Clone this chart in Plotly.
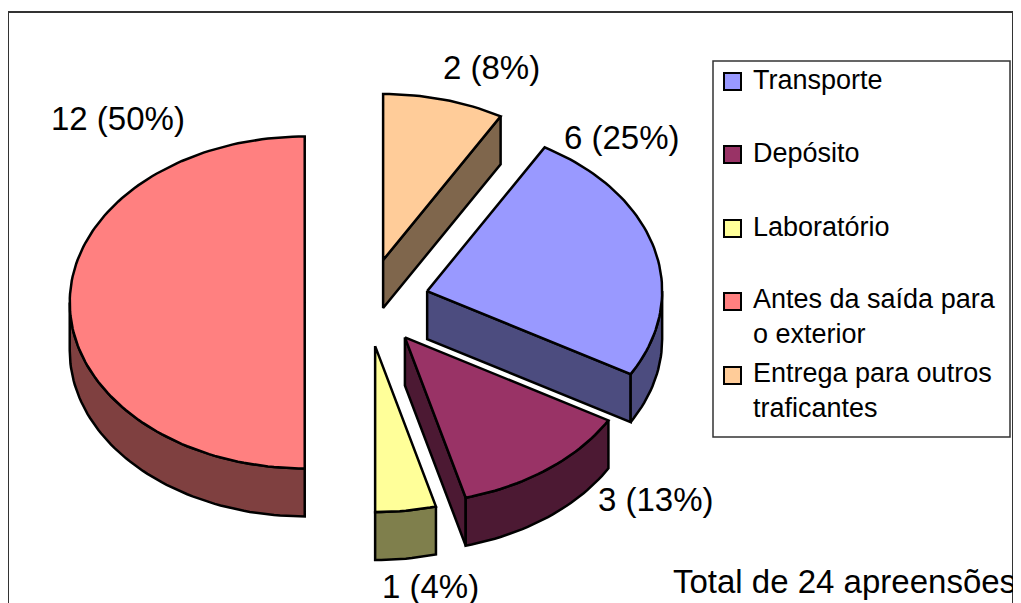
import math
import plotly.graph_objects as go

# ---- data ----
categories = ["Transporte", "Depósito", "Laboratório", "Antes da saída para o exterior", "Entrega para outros traficantes"]
legend_labels = ["Transporte", "Depósito", "Laboratório", "Antes da saída para<br>o exterior", "Entrega para outros<br>traficantes"]
counts = [6, 3, 1, 12, 2]
percent_labels = ["25%", "13%", "4%", "50%", "8%"]
colors = ["#9999FF", "#993366", "#FFFF99", "#FF8080", "#FFCC99"]
total_text = "Total de 24 apreensões"

# ---- geometry / style (layout, pixels) ----
W, H = 1021, 603
OFF = 8  # default page body margin
CX, CY = 367, 302.5
RX, RY = 235, 166
DEPTH = 48
EXPL = 0.265
ROT = 30
FONT = "Liberation Sans, Arial, sans-serif"
label_pos = [(622, 137), (656, 499), (430, 586), (118, 118), (491, 67)]


def darker(hexc):
    h = hexc.lstrip("#")
    r, g, b = (int(h[i:i + 2], 16) for i in (0, 2, 4))
    return "#%02X%02X%02X" % (r // 2, g // 2, b // 2)


def rim(cx, cy, ang, dz=0.0):
    a = math.radians(ang)
    return cx + RX * math.sin(a), cy - RY * math.cos(a) + dz


def arc(cx, cy, a0, a1, dz=0.0, n=None):
    if n is None:
        n = max(2, int(abs(a1 - a0) / 1.5) + 1)
    return [rim(cx, cy, a0 + (a1 - a0) * i / (n - 1), dz) for i in range(n)]


fig = go.Figure()


def poly(pts, fill):
    xs = [p[0] for p in pts] + [pts[0][0]]
    ys = [p[1] for p in pts] + [pts[0][1]]
    fig.add_trace(go.Scatter(x=xs, y=ys, mode="lines", fill="toself", fillcolor=fill,
                             line=dict(color="black", width=2.5), hoverinfo="skip",
                             showlegend=False))


total = sum(counts)
slices = []
cum = 0
for i, v in enumerate(counts):
    a0 = ROT + cum / total * 360
    a1 = ROT + (cum + v) / total * 360
    cum += v
    while a0 >= 360:
        a0 -= 360
        a1 -= 360
    mid = math.radians((a0 + a1) / 2)
    ax = CX + EXPL * RX * math.sin(mid)
    ay = CY - EXPL * RY * math.cos(mid)
    slices.append((i, a0, a1, ax, ay))

# painter's order: back to front
for i, a0, a1, ax, ay in sorted(slices, key=lambda s: s[4]):
    face = colors[i]
    side = darker(face)
    if math.sin(math.radians(a1)) > 0.01:
        p = rim(ax, ay, a1)
        poly([(ax, ay), p, (p[0], p[1] + DEPTH), (ax, ay + DEPTH)], side)
    if math.sin(math.radians(a0)) < -0.01:
        p = rim(ax, ay, a0)
        poly([(ax, ay), p, (p[0], p[1] + DEPTH), (ax, ay + DEPTH)], side)
    lo, hi = max(a0, 90), min(a1, 270)
    if hi > lo:
        poly(arc(ax, ay, lo, hi) + arc(ax, ay, hi, lo, DEPTH), side)
    poly([(ax, ay)] + arc(ax, ay, a0, a1), face)

annotations = []
for i, (lx, ly) in enumerate(label_pos):
    annotations.append(dict(x=lx, y=ly, xref="x", yref="y", showarrow=False,
                            text=f"{counts[i]} ({percent_labels[i]})",
                            font=dict(family=FONT, size=33, color="black"),
                            xanchor="center", yanchor="middle"))
annotations.append(dict(x=1018, y=581, xref="x", yref="y", showarrow=False, text=total_text,
                        font=dict(family=FONT, size=33, color="black"),
                        xanchor="right", yanchor="middle"))

shapes = [
    dict(type="rect", xref="x", yref="y", x0=8, y0=12, x1=1013, y1=640,
         line=dict(color="#333333", width=2), fillcolor="rgba(0,0,0,0)", layer="above"),
    dict(type="rect", xref="x", yref="y", x0=713, y0=61, x1=1010, y1=437,
         line=dict(color="#333333", width=1.5), fillcolor="white", layer="below"),
]

row_y = [80, 153, 227, 300, 374]
LINE = 33
for i, lab in enumerate(legend_labels):
    y0 = row_y[i]
    nlines = lab.count("<br>") + 1
    shapes.append(dict(type="rect", xref="x", yref="y", x0=724, x1=741, y0=y0 - 7, y1=y0 + 10,
                       line=dict(color="black", width=2), fillcolor=colors[i], layer="above"))
    annotations.append(dict(x=751, y=y0 + (nlines - 1) * LINE / 2, xref="x", yref="y",
                            showarrow=False, text=lab, align="left",
                            font=dict(family=FONT, size=27, color="black"),
                            xanchor="left", yanchor="middle"))

fig.update_layout(
    width=W - OFF, height=H - OFF,
    margin=dict(l=0, r=0, t=0, b=0),
    paper_bgcolor="white", plot_bgcolor="white",
    xaxis=dict(range=[OFF, W], visible=False, fixedrange=True),
    yaxis=dict(range=[H, OFF], visible=False, fixedrange=True),
    shapes=shapes, annotations=annotations, showlegend=False,
)

fig.write_html("out.html")
